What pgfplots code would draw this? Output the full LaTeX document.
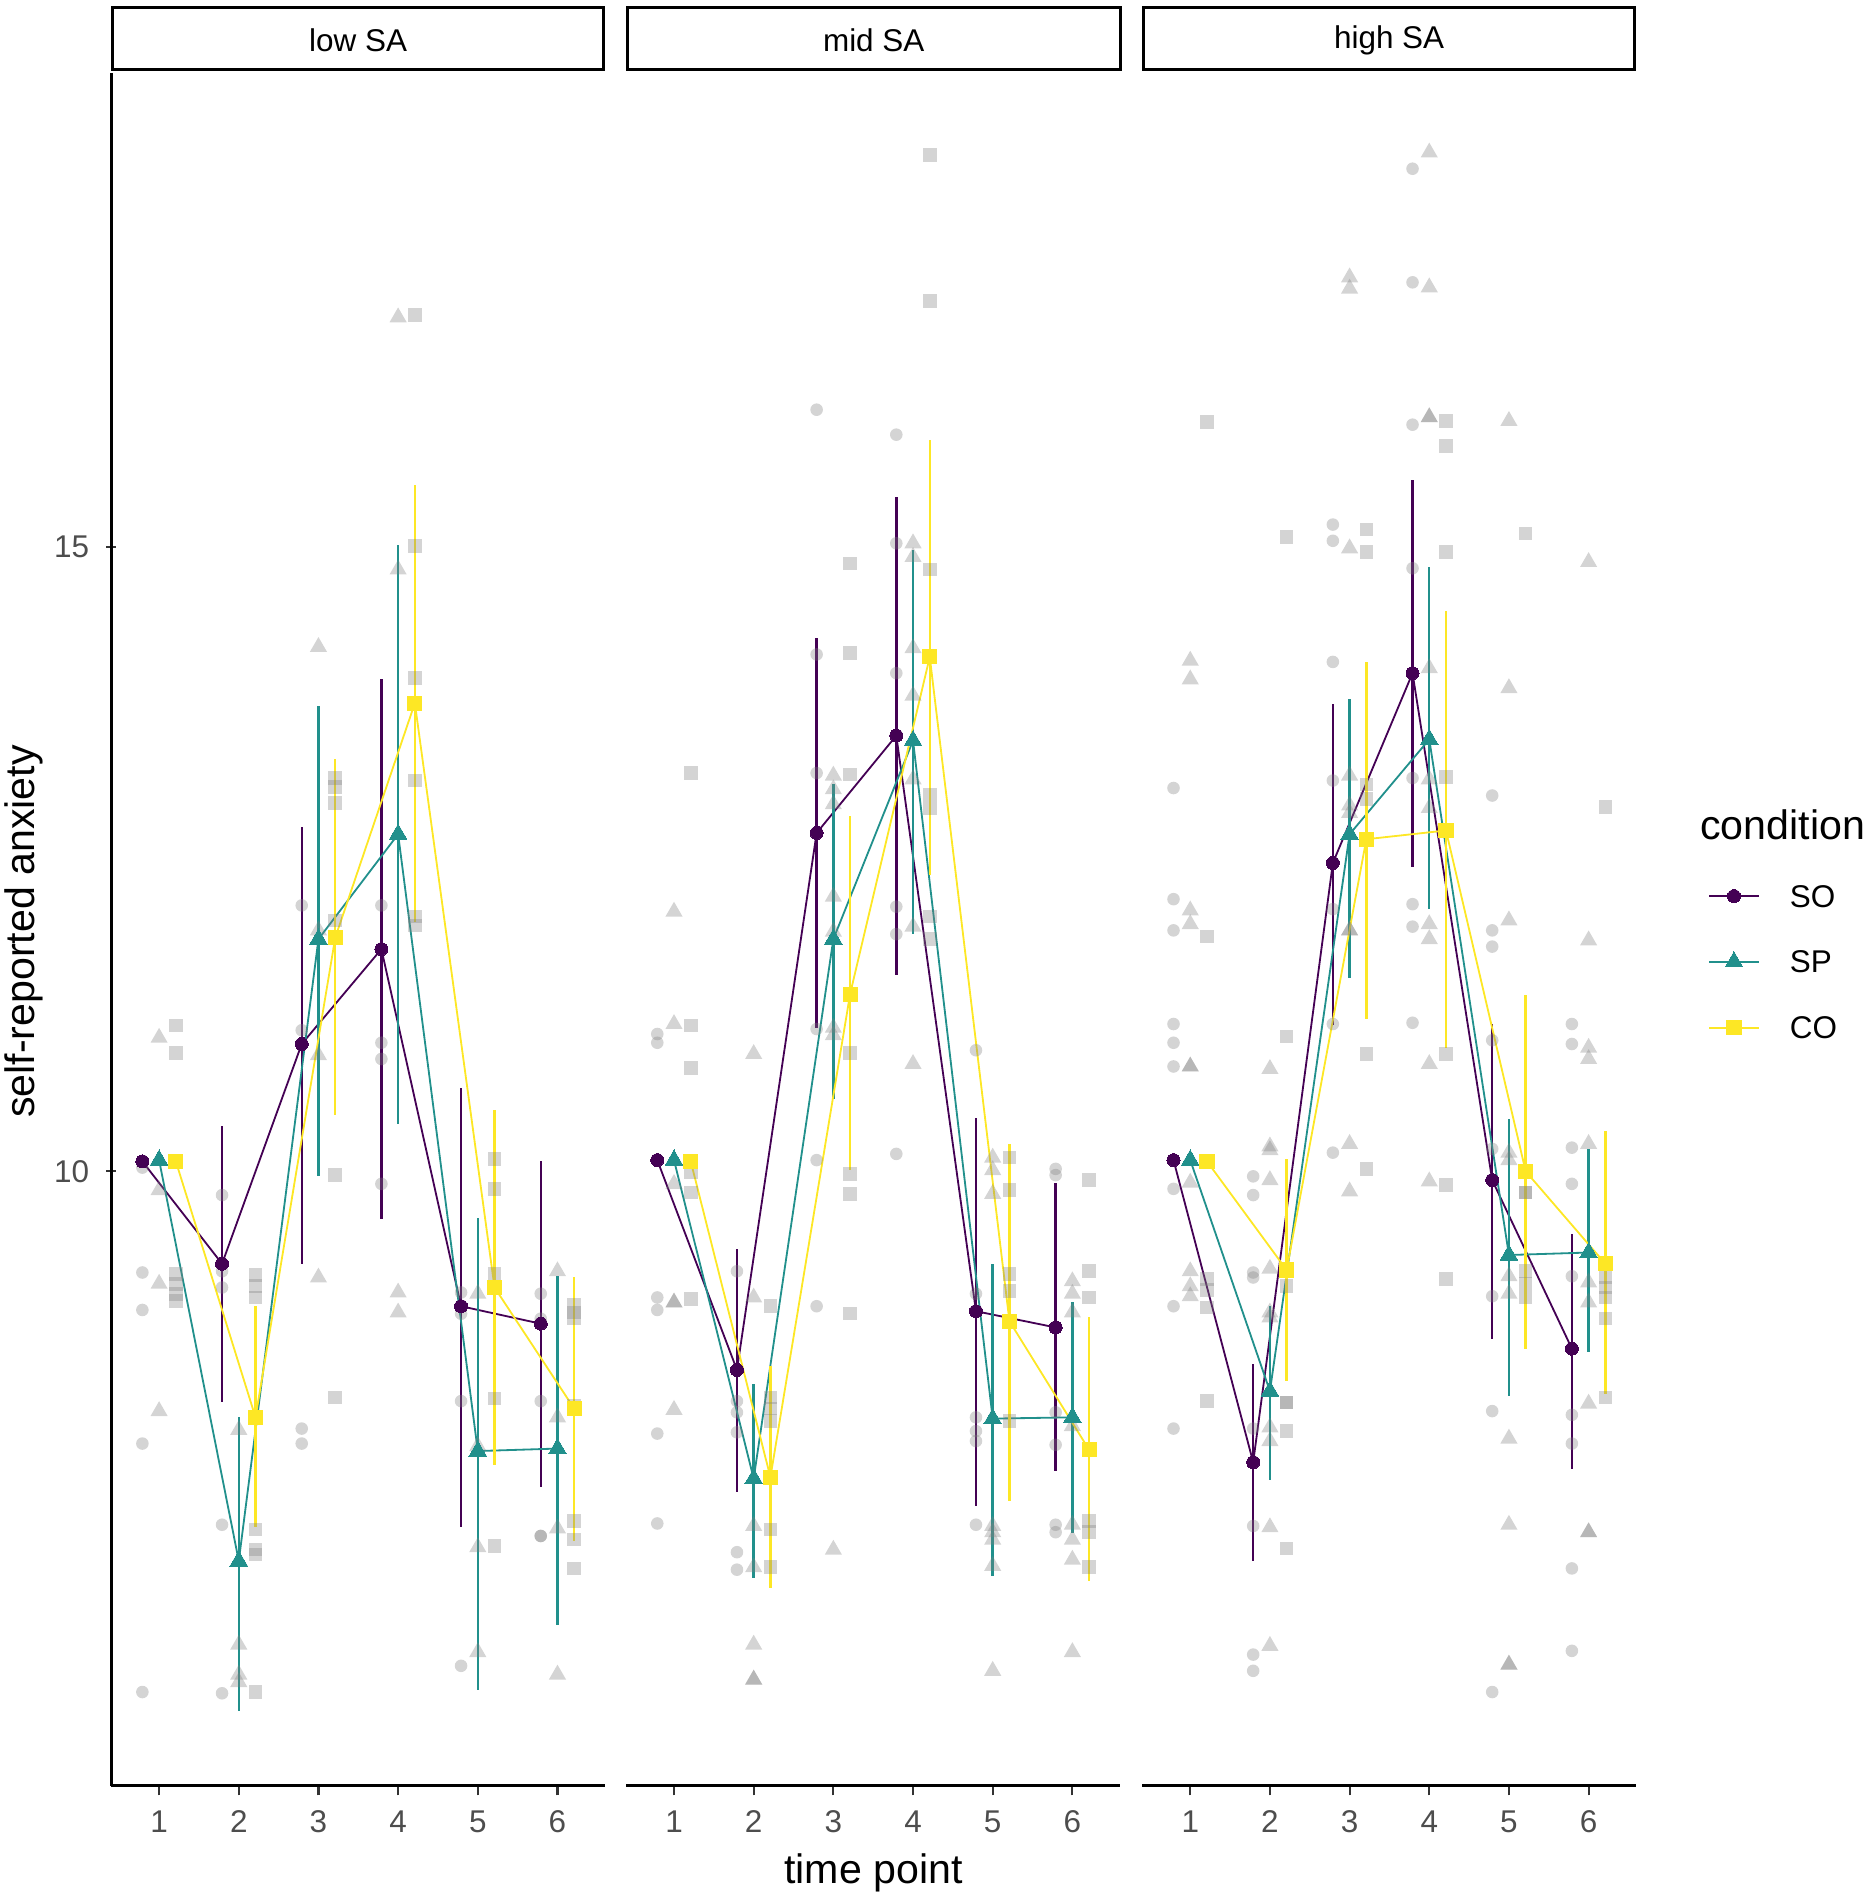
\documentclass[border=0pt]{standalone}
\usepackage{fontspec}
\setmainfont{Liberation Sans}
\usepackage{pgfplots}
\pgfplotsset{compat=1.18}
\usepackage{pgfplotstable}

\definecolor{cSO}{HTML}{440154}
\definecolor{cSP}{HTML}{21908C}
\definecolor{cCO}{HTML}{FDE725}
\definecolor{tickc}{HTML}{333333}
\definecolor{labc}{HTML}{4D4D4D}

% means with interval limits: x y lo hi
\pgfplotstableread{
x y lo hi
0.79 10.08 10.08 10.08
1.79 9.26 8.15 10.36
2.79 11.02 9.26 12.76
3.79 11.78 9.62 13.94
4.79 8.92 7.15 10.67
5.79 8.78 7.47 10.08
}\lowSO
\pgfplotstableread{
x y lo hi
1 10.09 10.09 10.09
2 6.88 5.68 8.03
3 11.86 9.96 13.73
4 12.70 10.38 15.02
5 7.76 5.85 9.63
6 7.78 6.37 9.16
}\lowSP
\pgfplotstableread{
x y lo hi
1.21 10.08 10.08 10.08
2.21 8.03 7.15 8.92
3.21 11.87 10.45 13.30
4.21 13.75 12.00 15.50
5.21 9.07 7.65 10.49
6.21 8.10 7.04 9.15
}\lowCO
\pgfplotstableread{
x y lo hi
0.79 10.09 10.09 10.09
1.79 8.41 7.43 9.38
2.79 12.71 11.15 14.27
3.79 13.49 11.57 15.40
4.79 8.88 7.32 10.43
5.79 8.75 7.60 9.91
}\midSO
\pgfplotstableread{
x y lo hi
1 10.09 10.09 10.09
2 7.54 6.74 8.30
3 11.86 10.58 13.10
4 13.45 11.90 14.98
5 8.02 6.76 9.26
6 8.03 7.10 8.95
}\midSP
\pgfplotstableread{
x y lo hi
1.21 10.08 10.08 10.08
2.21 7.55 6.66 8.44
3.21 11.42 10.01 12.85
4.21 14.12 12.37 15.86
5.21 8.80 7.36 10.22
6.21 7.77 6.72 8.83
}\midCO
\pgfplotstableread{
x y lo hi
0.79 10.09 10.09 10.09
1.79 7.67 6.88 8.46
2.79 12.47 11.17 13.74
3.79 13.99 12.44 15.54
4.79 9.93 8.66 11.18
5.79 8.58 7.62 9.50
}\highSO
\pgfplotstableread{
x y lo hi
1 10.09 10.09 10.09
2 8.24 7.53 8.92
3 12.70 11.55 13.78
4 13.46 12.10 14.84
5 9.33 8.20 10.42
6 9.35 8.55 10.18
}\highSP
\pgfplotstableread{
x y lo hi
1.21 10.08 10.08 10.08
2.21 9.21 8.32 10.10
3.21 12.66 11.22 14.08
4.21 12.73 10.99 14.49
5.21 10.00 8.58 11.41
6.21 9.26 8.22 10.32
}\highCO

\pgfplotsset{
  facet/.style={
    scale only axis, width=204.15pt, height=708pt, anchor=south west,
    xmin=0.4, xmax=6.6, ymin=5.08, ymax=18.8,
    axis x line=bottom, axis line style={-, line width=1.1pt, black},
    x axis line style={-}, y axis line style={-},
    xtick={1,2,3,4,5,6}, tick align=outside, major tick length=4pt,
    tick style={line width=0.9pt, color=tickc},
    xticklabel style={font=\fontsize{13}{13}\selectfont, text=labc, anchor=center, inner sep=0pt, yshift=-11pt},
    /pgf/number format/assume math mode=true,
  },
  grayO/.style={only marks, forget plot, mark=*, mark size=2.6pt, mark options={fill=gray, fill opacity=0.34, draw opacity=0}},
  grayT/.style={only marks, forget plot, mark=triangle*, mark size=4.1pt, mark options={fill=gray, fill opacity=0.34, draw opacity=0}},
  grayS/.style={only marks, forget plot, mark=square*, mark size=2.8pt, mark options={fill=gray, fill opacity=0.34, draw opacity=0}},
  mSO/.style={color=cSO, line width=0.75pt, mark=*, mark size=2.7pt, mark options={solid, fill=cSO, line width=0pt},
    error bars/.cd, y dir=both, y explicit, error mark=none, error bar style={line width=1pt, color=cSO}},
  mSP/.style={color=cSP, line width=0.75pt, mark=triangle*, mark size=4.2pt, mark options={solid, fill=cSP, line width=0pt},
    error bars/.cd, y dir=both, y explicit, error mark=none, error bar style={line width=1pt, color=cSP}},
  mCO/.style={color=cCO, line width=0.75pt, mark=square*, mark size=2.9pt, mark options={solid, fill=cCO, line width=0pt},
    error bars/.cd, y dir=both, y explicit, error mark=none, error bar style={line width=1pt, color=cCO}},
}

\begin{document}
\begin{tikzpicture}
\path (0,0) rectangle (773.5pt,784pt);

% ---------------- low SA ----------------
\begin{axis}[facet, at={(46pt,46pt)},
  axis y line=left, x axis line style={-}, y axis line style={-}, ytick={10,15},
  yticklabel style={font=\fontsize{13}{13}\selectfont, text=labc, anchor=east, inner sep=0pt, xshift=-7pt}]
\addplot[grayO] coordinates {
(0.79,10.03) (0.79,9.19) (0.79,8.89) (0.79,7.82) (0.79,5.83)
(1.79,9.81) (1.79,9.20) (1.79,9.07) (1.79,7.17) (1.79,5.82)
(2.79,12.13) (2.79,11.13) (2.79,7.94) (2.79,7.82)
(3.79,12.13) (3.79,11.03) (3.79,10.90) (3.79,9.90)
(4.79,9.03) (4.79,8.86) (4.79,8.16) (4.79,6.04)
(5.79,9.02) (5.79,8.82) (5.79,8.16) (5.79,7.08) (5.79,7.08)};
\addplot[grayT] coordinates {
(1,11.07) (1,9.85) (1,9.10) (1,8.08)
(2,7.93) (2,6.21) (2,5.97) (2,5.91)
(3,14.20) (3,11.93) (3,10.93) (3,9.15)
(4,16.84) (4,14.82) (4,9.03) (4,8.87)
(5,9.02) (5,7.80) (5,6.99) (5,6.15)
(6,9.20) (6,8.03) (6,7.14) (6,5.97)};
\addplot[grayS] coordinates {
(1.21,11.17) (1.21,10.95) (1.21,9.18) (1.21,9.10) (1.21,9.02) (1.21,8.96)
(2.21,9.17) (2.21,9.08) (2.21,8.99) (2.21,7.13) (2.21,6.97) (2.21,6.93) (2.21,5.83)
(3.21,13.15) (3.21,13.08) (3.21,12.95) (3.21,12.01) (3.21,9.97) (3.21,8.19)
(4.21,16.86) (4.21,15.01) (4.21,13.95) (4.21,13.13) (4.21,12.04) (4.21,11.97)
(5.21,10.10) (5.21,9.86) (5.21,9.18) (5.21,8.18) (5.21,7.00)
(6.21,8.93) (6.21,8.87) (6.21,8.82) (6.21,8.12) (6.21,7.20) (6.21,7.05) (6.21,6.82)};
\addplot[mSO] table[x=x, y=y, y error plus expr=\thisrow{hi}-\thisrow{y}, y error minus expr=\thisrow{y}-\thisrow{lo}] {\lowSO};
\addplot[mSP] table[x=x, y=y, y error plus expr=\thisrow{hi}-\thisrow{y}, y error minus expr=\thisrow{y}-\thisrow{lo}] {\lowSP};
\addplot[mCO] table[x=x, y=y, y error plus expr=\thisrow{hi}-\thisrow{y}, y error minus expr=\thisrow{y}-\thisrow{lo}] {\lowCO};
\end{axis}

% ---------------- mid SA ----------------
\begin{axis}[facet, at={(258.8pt,46pt)}, axis y line=none, x axis line style={-}, ytick=\empty]
\addplot[grayO] coordinates {
(0.79,11.10) (0.79,11.03) (0.79,8.99) (0.79,8.89) (0.79,7.90) (0.79,7.18)
(1.79,9.20) (1.79,8.16) (1.79,8.07) (1.79,7.91) (1.79,6.95) (1.79,6.81)
(2.79,16.10) (2.79,14.14) (2.79,13.19) (2.79,11.14) (2.79,10.09) (2.79,8.92)
(3.79,15.90) (3.79,15.03) (3.79,13.99) (3.79,12.12) (3.79,11.90) (3.79,10.14)
(4.79,10.97) (4.79,9.02) (4.79,8.03) (4.79,7.92) (4.79,7.84) (4.79,7.17)
(5.79,10.02) (5.79,9.97) (5.79,8.07) (5.79,7.81) (5.79,7.17) (5.79,7.11)};
\addplot[grayT] coordinates {
(1,12.08) (1,11.18) (1,9.90) (1,8.95) (1,8.95) (1,8.09)
(2,10.94) (2,8.99) (2,7.16) (2,6.83) (2,6.21) (2,5.93) (2,5.93)
(3,13.17) (3,13.06) (3,12.94) (3,12.20) (3,11.92) (3,11.15) (3,11.09) (3,6.97)
(4,15.03) (4,14.92) (4,14.19) (4,13.81) (4,13.14) (4,11.96) (4,10.86)
(5,10.11) (5,10.01) (5,9.82) (5,7.16) (5,7.11) (5,7.05) (5,6.84) (5,6.00)
(6,9.12) (6,9.02) (6,8.87) (6,7.96) (6,7.17) (6,7.05) (6,6.89) (6,6.15)};
\addplot[grayS] coordinates {
(1.21,13.19) (1.21,11.17) (1.21,10.83) (1.21,9.99) (1.21,9.83) (1.21,8.98)
(2.21,8.92) (2.21,8.19) (2.21,8.10) (2.21,8.00) (2.21,7.13) (2.21,6.83)
(3.21,14.87) (3.21,14.15) (3.21,13.18) (3.21,10.95) (3.21,9.98) (3.21,9.82) (3.21,8.86)
(4.21,18.14) (4.21,16.97) (4.21,14.82) (4.21,13.02) (4.21,12.91) (4.21,12.04) (4.21,11.86)
(5.21,10.11) (5.21,9.85) (5.21,9.18) (5.21,9.04) (5.21,8.00)
(6.21,9.93) (6.21,9.20) (6.21,8.99) (6.21,7.20) (6.21,7.11) (6.21,6.83)};
\addplot[mSO] table[x=x, y=y, y error plus expr=\thisrow{hi}-\thisrow{y}, y error minus expr=\thisrow{y}-\thisrow{lo}] {\midSO};
\addplot[mSP] table[x=x, y=y, y error plus expr=\thisrow{hi}-\thisrow{y}, y error minus expr=\thisrow{y}-\thisrow{lo}] {\midSP};
\addplot[mCO] table[x=x, y=y, y error plus expr=\thisrow{hi}-\thisrow{y}, y error minus expr=\thisrow{y}-\thisrow{lo}] {\midCO};
\end{axis}

% ---------------- high SA ----------------
\begin{axis}[facet, at={(472.15pt,46pt)}, axis y line=none, x axis line style={-}, ytick=\empty,
  legend style={at={(1.1455,0.4809)}, anchor=west, draw=none, fill=none, inner sep=0pt, outer sep=0pt,
    row sep=18.1pt, column sep=12.5pt, font=\fontsize{13}{13}\selectfont, nodes={inner sep=0pt, text depth=0pt}},
  legend cell align=left,
  legend image code/.code={\draw[mark repeat=2, mark phase=2, #1] plot coordinates {(0pt,0pt) (10.25pt,0pt) (20.5pt,0pt)};}]
\addplot[grayO] coordinates {
(0.79,13.07) (0.79,12.18) (0.79,11.93) (0.79,11.18) (0.79,11.03) (0.79,10.84) (0.79,9.86) (0.79,8.92) (0.79,7.94)
(1.79,9.96) (1.79,9.81) (1.79,9.19) (1.79,9.15) (1.79,7.94) (1.79,7.16) (1.79,6.13) (1.79,6.00)
(2.79,15.18) (2.79,15.05) (2.79,14.08) (2.79,13.13) (2.79,12.10) (2.79,11.18) (2.79,10.15)
(3.79,18.03) (3.79,17.12) (3.79,15.98) (3.79,14.83) (3.79,13.15) (3.79,12.14) (3.79,11.96) (3.79,11.19)
(4.79,13.01) (4.79,11.93) (4.79,11.80) (4.79,11.05) (4.79,10.18) (4.79,9.00) (4.79,8.08) (4.79,5.83)
(5.79,11.18) (5.79,11.02) (5.79,10.19) (5.79,9.90) (5.79,9.16) (5.79,8.05) (5.79,7.82) (5.79,6.82) (5.79,6.16)};
\addplot[grayT] coordinates {
(1,14.09) (1,13.94) (1,12.09) (1,11.98) (1,10.84) (1,10.84) (1,9.91) (1,9.20) (1,9.08) (1,9.00)
(2,10.82) (2,10.20) (2,10.17) (2,9.93) (2,9.22) (2,8.87) (2,8.83) (2,7.95) (2,7.84) (2,7.15) (2,6.20)
(3,17.16) (3,17.07) (3,14.99) (3,13.17) (3,12.93) (3,12.87) (3,11.93) (3,11.93) (3,10.22) (3,9.84)
(4,18.16) (4,17.08) (4,16.04) (4,16.04) (4,14.03) (4,13.14) (4,12.91) (4,11.98) (4,11.86) (4,10.86) (4,9.92)
(5,16.01) (5,13.87) (5,12.01) (5,10.15) (5,10.09) (5,9.16) (5,9.02) (5,7.86) (5,7.17) (5,6.05) (5,6.05)
(6,14.88) (6,11.85) (6,10.99) (6,10.90) (6,10.22) (6,9.11) (6,8.95) (6,8.14) (6,7.11) (6,7.11)};
\addplot[grayS] coordinates {
(1.21,16.00) (1.21,11.88) (1.21,9.14) (1.21,9.05) (1.21,8.91) (1.21,8.16)
(2.21,15.08) (2.21,11.08) (2.21,9.08) (2.21,8.15) (2.21,8.15) (2.21,7.92) (2.21,6.98)
(3.21,15.14) (3.21,14.96) (3.21,13.10) (3.21,12.98) (3.21,10.94) (3.21,10.02)
(4.21,16.01) (4.21,15.81) (4.21,14.96) (4.21,13.16) (4.21,10.94) (4.21,9.89) (4.21,9.14)
(5.21,15.11) (5.21,9.83) (5.21,9.83) (5.21,9.20) (5.21,9.10) (5.21,8.99)
(6.21,12.92) (6.21,9.15) (6.21,9.07) (6.21,8.99) (6.21,8.82) (6.21,8.19)};
\addplot[mSO] table[x=x, y=y, y error plus expr=\thisrow{hi}-\thisrow{y}, y error minus expr=\thisrow{y}-\thisrow{lo}] {\highSO};
\addlegendentry{SO}
\addplot[mSP] table[x=x, y=y, y error plus expr=\thisrow{hi}-\thisrow{y}, y error minus expr=\thisrow{y}-\thisrow{lo}] {\highSP};
\addlegendentry{SP}
\addplot[mCO] table[x=x, y=y, y error plus expr=\thisrow{hi}-\thisrow{y}, y error minus expr=\thisrow{y}-\thisrow{lo}] {\highCO};
\addlegendentry{CO}
\end{axis}

% strips
\draw[line width=1.2pt, fill=white] (46.6pt,755.2pt) rectangle (249.4pt,780.9pt);
\draw[line width=1.2pt, fill=white] (259.4pt,755.2pt) rectangle (462.9pt,780.9pt);
\draw[line width=1.2pt, fill=white] (472.75pt,755.2pt) rectangle (675.4pt,780.9pt);
\node[font=\fontsize{13}{13}\selectfont, inner sep=0pt] at (148pt,767.5pt) {low SA};
\node[font=\fontsize{13}{13}\selectfont, inner sep=0pt] at (361.1pt,767.5pt) {mid SA};
\node[font=\fontsize{13}{13}\selectfont, inner sep=0pt] at (574.1pt,767.5pt) {high SA};

% titles
\node[rotate=90, font=\fontsize{17}{17}\selectfont, inner sep=0pt] at (10pt,399pt) {self-reported anxiety};
\node[font=\fontsize{17}{17}\selectfont, inner sep=0pt] at (361pt,10pt) {time point};
\node[font=\fontsize{17}{17}\selectfont, inner sep=0pt, anchor=west] at (702.5pt,443pt) {condition};
\end{tikzpicture}
\end{document}
